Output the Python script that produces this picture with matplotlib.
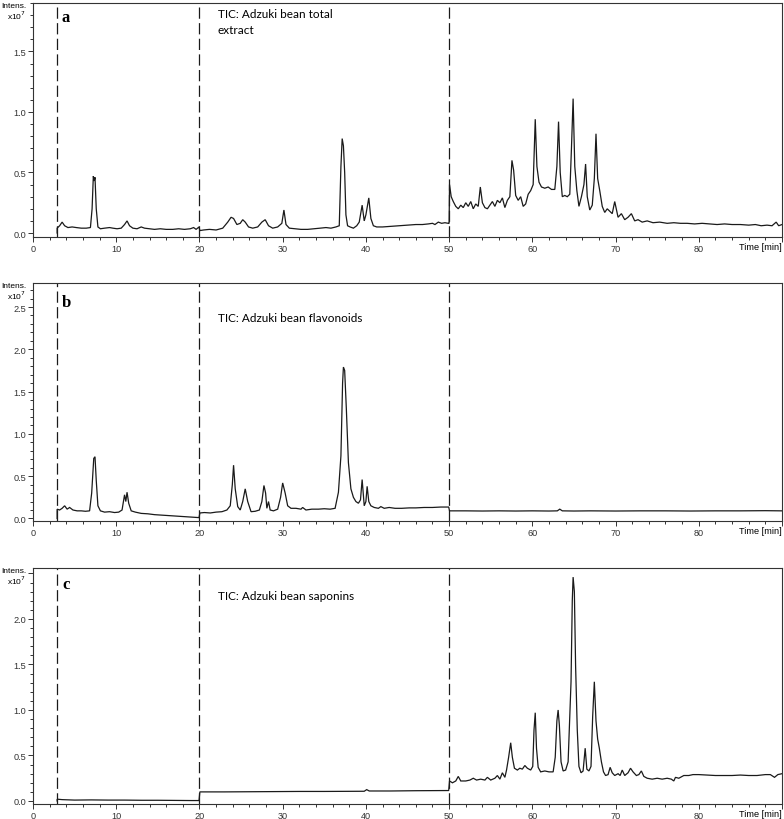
import matplotlib
matplotlib.use('Agg')
import matplotlib.pyplot as plt
from matplotlib.ticker import MultipleLocator, FuncFormatter

# chromatogram traces, (time [min], intensity [x10^7])
A_TRACE = [
  (2.9, 0.0), (2.9, 0.04), (3.2, 0.06), (3.5, 0.09), (3.8, 0.06), (4.2, 0.045), (4.7, 0.05),
  (5.2, 0.045), (5.8, 0.04), (6.4, 0.04), (6.9, 0.045), (7.1, 0.2), (7.25, 0.47), (7.35, 0.43),
  (7.45, 0.46), (7.6, 0.2), (7.8, 0.05), (8.1, 0.035), (8.6, 0.04), (9.2, 0.045), (9.6, 0.04),
  (10.1, 0.035), (10.6, 0.04), (11.0, 0.07), (11.3, 0.1), (11.6, 0.06), (12.0, 0.04), (12.5, 0.035),
  (13.0, 0.05), (13.4, 0.04), (14.0, 0.035), (14.6, 0.03), (15.3, 0.035), (16.0, 0.03), (16.8, 0.03),
  (17.5, 0.035), (18.2, 0.03), (18.9, 0.035), (19.3, 0.045), (19.6, 0.03), (19.95, 0.05),
  (20.05, 0.02), (20.5, 0.025), (21.2, 0.03), (22.0, 0.025), (22.8, 0.04), (23.4, 0.09), (23.8, 0.13),
  (24.1, 0.12), (24.5, 0.07), (24.9, 0.08), (25.2, 0.11), (25.5, 0.09), (25.9, 0.05), (26.4, 0.04),
  (27.0, 0.05), (27.5, 0.09), (27.9, 0.11), (28.3, 0.06), (28.8, 0.04), (29.4, 0.05), (29.9, 0.08),
  (30.15, 0.19), (30.4, 0.07), (30.8, 0.04), (31.5, 0.035), (32.2, 0.03), (33.0, 0.03), (33.8, 0.035),
  (34.5, 0.04), (35.2, 0.045), (35.8, 0.04), (36.4, 0.05), (36.8, 0.06), (37.0, 0.55), (37.15, 0.78),
  (37.3, 0.72), (37.45, 0.5), (37.6, 0.15), (37.8, 0.06), (38.1, 0.05), (38.5, 0.04), (38.9, 0.06),
  (39.2, 0.09), (39.55, 0.23), (39.8, 0.1), (40.0, 0.15), (40.35, 0.29), (40.6, 0.12), (40.9, 0.06),
  (41.3, 0.05), (42.0, 0.05), (43.0, 0.055), (44.0, 0.06), (45.0, 0.065), (46.0, 0.07), (46.8, 0.07),
  (47.5, 0.075), (48.0, 0.08), (48.3, 0.07), (48.7, 0.09), (49.1, 0.08), (49.5, 0.085), (49.9, 0.08),
  (50.0, 0.08), (50.05, 0.40), (50.25, 0.30), (50.5, 0.26), (50.8, 0.22), (51.1, 0.2), (51.4, 0.23),
  (51.7, 0.21), (52.0, 0.25), (52.3, 0.22), (52.6, 0.26), (52.9, 0.2), (53.2, 0.24), (53.5, 0.22),
  (53.75, 0.38), (54.0, 0.25), (54.3, 0.21), (54.6, 0.2), (54.9, 0.23), (55.2, 0.26), (55.5, 0.22),
  (55.8, 0.27), (56.1, 0.25), (56.4, 0.29), (56.7, 0.21), (57.0, 0.27), (57.3, 0.3), (57.55, 0.6),
  (57.75, 0.52), (58.0, 0.31), (58.3, 0.27), (58.6, 0.3), (58.9, 0.22), (59.2, 0.24), (59.5, 0.32),
  (59.8, 0.35), (60.1, 0.4), (60.35, 0.94), (60.55, 0.55), (60.8, 0.42), (61.1, 0.38), (61.5, 0.37),
  (61.9, 0.38), (62.3, 0.36), (62.7, 0.36), (62.95, 0.55), (63.15, 0.92), (63.35, 0.5), (63.6, 0.3),
  (63.9, 0.31), (64.2, 0.3), (64.5, 0.32), (64.7, 0.7), (64.9, 1.11), (65.1, 0.55), (65.35, 0.35),
  (65.6, 0.22), (65.9, 0.3), (66.2, 0.4), (66.4, 0.57), (66.6, 0.3), (66.9, 0.19), (67.2, 0.23),
  (67.45, 0.45), (67.65, 0.82), (67.85, 0.45), (68.1, 0.35), (68.4, 0.22), (68.7, 0.17), (69.0, 0.2),
  (69.3, 0.18), (69.6, 0.16), (69.9, 0.26), (70.3, 0.13), (70.7, 0.16), (71.1, 0.11), (71.5, 0.13),
  (71.9, 0.16), (72.3, 0.1), (72.7, 0.11), (73.2, 0.09), (73.8, 0.1), (74.5, 0.085), (75.3, 0.09),
  (76.2, 0.08), (77.0, 0.085), (77.8, 0.08), (78.6, 0.08), (79.5, 0.075), (80.4, 0.08), (81.3, 0.075),
  (82.2, 0.07), (83.1, 0.075), (84.0, 0.07), (85.0, 0.07), (86.0, 0.065), (86.8, 0.07), (87.5, 0.06),
  (88.2, 0.065), (88.8, 0.06), (89.3, 0.09), (89.6, 0.06), (90.0, 0.07),
]

B_TRACE = [
  (2.9, 0.0), (2.9, 0.11), (3.2, 0.1), (3.5, 0.12), (3.8, 0.15), (4.1, 0.11), (4.4, 0.13), (4.8, 0.1),
  (5.3, 0.09), (5.8, 0.09), (6.3, 0.085), (6.8, 0.09), (7.05, 0.3), (7.3, 0.71), (7.45, 0.73),
  (7.6, 0.45), (7.8, 0.15), (8.1, 0.09), (8.6, 0.075), (9.2, 0.08), (9.8, 0.07), (10.3, 0.075),
  (10.7, 0.1), (11.0, 0.28), (11.15, 0.2), (11.3, 0.31), (11.5, 0.18), (11.8, 0.09), (12.3, 0.075),
  (13.0, 0.06), (13.8, 0.055), (14.6, 0.045), (15.4, 0.04), (16.2, 0.035), (17.0, 0.03), (17.8, 0.025),
  (18.5, 0.02), (19.2, 0.015), (19.95, 0.01),
  (20.05, 0.065), (20.6, 0.07), (21.3, 0.065), (22.0, 0.075), (22.7, 0.08), (23.3, 0.1), (23.7, 0.15),
  (23.95, 0.4), (24.1, 0.63), (24.3, 0.35), (24.6, 0.14), (24.9, 0.1), (25.2, 0.2), (25.5, 0.35),
  (25.8, 0.2), (26.2, 0.08), (26.7, 0.085), (27.2, 0.1), (27.5, 0.2), (27.75, 0.39), (27.95, 0.3),
  (28.1, 0.12), (28.3, 0.2), (28.5, 0.1), (28.9, 0.09), (29.4, 0.11), (29.75, 0.25), (30.0, 0.42),
  (30.3, 0.3), (30.6, 0.15), (31.0, 0.12), (31.6, 0.12), (32.2, 0.11), (32.4, 0.13), (32.8, 0.1),
  (33.5, 0.11), (34.3, 0.11), (35.0, 0.115), (35.7, 0.11), (36.3, 0.12), (36.7, 0.31), (37.0, 0.74),
  (37.2, 1.6), (37.3, 1.79), (37.45, 1.75), (37.65, 1.3), (37.9, 0.66), (38.2, 0.35), (38.5, 0.25),
  (38.8, 0.2), (39.1, 0.18), (39.35, 0.22), (39.55, 0.46), (39.8, 0.15), (40.0, 0.2), (40.15, 0.38),
  (40.35, 0.2), (40.6, 0.15), (41.0, 0.13), (41.5, 0.12), (41.8, 0.14), (42.2, 0.12), (42.8, 0.13),
  (43.5, 0.12), (44.3, 0.12), (45.2, 0.125), (46.0, 0.125), (47.0, 0.13), (48.0, 0.13), (49.0, 0.135),
  (49.95, 0.135),
  (50.05, 0.09), (52.0, 0.09), (54.0, 0.088), (56.0, 0.09), (58.0, 0.088), (60.0, 0.09), (62.0, 0.088),
  (63.0, 0.09), (63.3, 0.11), (63.6, 0.09), (65.0, 0.088), (67.0, 0.09), (70.0, 0.088), (73.0, 0.09),
  (76.0, 0.09), (79.0, 0.088), (82.0, 0.09), (85.0, 0.09), (88.0, 0.092), (90.0, 0.09),
]

C_TRACE = [
  (2.9, 0.0), (2.9, 0.02), (3.5, 0.015), (5.0, 0.01), (7.0, 0.012), (9.0, 0.01), (11.0, 0.01),
  (13.0, 0.008), (15.0, 0.008), (17.0, 0.006), (19.0, 0.005), (19.95, 0.005),
  (20.05, 0.1), (23.0, 0.1), (26.0, 0.102), (29.0, 0.103), (32.0, 0.105), (35.0, 0.105),
  (38.0, 0.107), (39.8, 0.107), (40.1, 0.125), (40.4, 0.11), (43.0, 0.11), (46.0, 0.113),
  (49.95, 0.115),
  (50.05, 0.22), (50.4, 0.2), (50.8, 0.22), (51.1, 0.27), (51.4, 0.22), (52.0, 0.22), (52.5, 0.23),
  (52.9, 0.25), (53.3, 0.23), (53.8, 0.24), (54.3, 0.23), (54.6, 0.26), (55.0, 0.23), (55.5, 0.25),
  (55.8, 0.28), (56.1, 0.24), (56.4, 0.31), (56.7, 0.26), (56.9, 0.34), (57.15, 0.48), (57.4, 0.64),
  (57.6, 0.48), (57.85, 0.36), (58.2, 0.34), (58.5, 0.36), (58.8, 0.35), (59.1, 0.39), (59.4, 0.36),
  (59.8, 0.34), (60.05, 0.38), (60.2, 0.78), (60.35, 0.97), (60.5, 0.58), (60.7, 0.37), (61.0, 0.32),
  (61.5, 0.33), (62.0, 0.32), (62.5, 0.32), (62.75, 0.48), (62.95, 0.88), (63.1, 1.0), (63.25, 0.83),
  (63.45, 0.43), (63.7, 0.33), (64.0, 0.34), (64.3, 0.43), (64.5, 0.93), (64.65, 1.31), (64.8, 2.2),
  (64.9, 2.46), (65.05, 2.3), (65.2, 1.48), (65.4, 0.78), (65.6, 0.38), (65.85, 0.31), (66.1, 0.33),
  (66.35, 0.58), (66.55, 0.35), (66.8, 0.33), (67.05, 0.38), (67.25, 0.93), (67.45, 1.31), (67.65, 0.88),
  (67.85, 0.68), (68.05, 0.58), (68.3, 0.43), (68.55, 0.32), (68.8, 0.28), (69.1, 0.29), (69.35, 0.37),
  (69.6, 0.31), (69.9, 0.28), (70.3, 0.3), (70.55, 0.28), (70.8, 0.34), (71.1, 0.28), (71.5, 0.31),
  (71.8, 0.36), (72.1, 0.32), (72.5, 0.28), (72.8, 0.29), (73.1, 0.33), (73.4, 0.27), (73.8, 0.25),
  (74.4, 0.24), (75.0, 0.25), (75.6, 0.24), (76.2, 0.25), (76.7, 0.24), (77.0, 0.22), (77.2, 0.26),
  (77.6, 0.25), (78.2, 0.28), (78.8, 0.28), (79.3, 0.29), (80.0, 0.29), (81.0, 0.285), (82.0, 0.28),
  (83.0, 0.28), (84.0, 0.28), (85.0, 0.285), (86.0, 0.28), (87.0, 0.28), (88.0, 0.29), (88.6, 0.29),
  (89.1, 0.26), (89.5, 0.29), (90.0, 0.3),
]

LETTERS = ['a', 'b', 'c']
TITLES = ['TIC: Adzuki bean total\nextract', 'TIC: Adzuki bean flavonoids', 'TIC: Adzuki bean saponins']
TRACES = [A_TRACE, B_TRACE, C_TRACE]
YLIMS = [(-0.033, 1.90), (-0.03, 2.784), (-0.033, 2.56)]
Y_LABEL_MAX = [1.5, 2.5, 2.0]
CUTS = [2.9, 20, 50]
X_TICKS = [0, 10, 20, 30, 40, 50, 60, 70, 80, 90]
X_LABELS = ['0', '10', '20', '30', '40', '50', '60', '70', '80', '']

W, H = 784, 820
# panel boxes in pixels: left, top, right, bottom
BOXES = [(33, 4, 782, 238), (33, 284, 782, 522), (33, 569, 782, 805)]
LETTER_Y = [18, 303, 585]
TITLE_Y = [9, 313, 591]

TICK_FONT = ['Liberation Sans Narrow', 'Liberation Sans', 'DejaVu Sans']
INK = '#1a1a1a'

plt.rcParams['font.family'] = TICK_FONT
plt.rcParams['axes.linewidth'] = 0.8
plt.rcParams['axes.edgecolor'] = '#333333'

fig = plt.figure(figsize=(W / 100, H / 100), dpi=100)

def y_label(maxv):
  return FuncFormatter(lambda v, pos: '%.1f' % v if v <= maxv + 1e-6 else '')

for i in range(3):
  l, t, r, b = BOXES[i]
  ax = fig.add_axes([l / W, 1 - b / H, (r - l) / W, (b - t) / H])
  x, y = zip(*TRACES[i])
  ax.plot(x, y, color=INK, lw=0.9, solid_joinstyle='miter')
  for c in CUTS:
    ax.axvline(c, color=INK, lw=0.9, linestyle=(0, (9, 3.5)))
  ax.set_xlim(0, 90)
  ax.set_ylim(*YLIMS[i])

  ax.set_xticks(X_TICKS)
  ax.set_xticklabels(X_LABELS)
  ax.xaxis.set_minor_locator(MultipleLocator(2))
  ax.yaxis.set_major_locator(MultipleLocator(0.5))
  ax.yaxis.set_major_formatter(y_label(Y_LABEL_MAX[i]))
  ax.yaxis.set_minor_locator(MultipleLocator(0.1))
  ax.tick_params(which='both', direction='out', colors='#333333', labelsize=6.6, width=0.7, pad=1.5)
  ax.tick_params(which='major', length=3.5)
  ax.tick_params(which='minor', length=2)

  # intensity caption next to the two topmost ticks (pixel coords)
  ax.text(l - 7, H - t - 3, 'Intens.', transform=None, ha='right', va='center', fontsize=6)
  ax.text(l - 7, H - t - 12, 'x10$^7$', transform=None, ha='right', va='center', fontsize=6)
  ax.text(1.0, -0.022, 'Time [min]', transform=ax.transAxes, ha='right', va='top', fontsize=6.6)

  ax.text((62 - l) / (r - l), 1 - (LETTER_Y[i] - t) / (b - t), LETTERS[i], transform=ax.transAxes,
          ha='left', va='center', fontsize=12, fontweight='bold', family='Liberation Serif')
  ax.text((218 - l) / (r - l), 1 - (TITLE_Y[i] - t) / (b - t), TITLES[i], transform=ax.transAxes,
          ha='left', va='top', fontsize=8.5, family='Lato', linespacing=1.5)

fig.savefig('out.png', dpi=100)
